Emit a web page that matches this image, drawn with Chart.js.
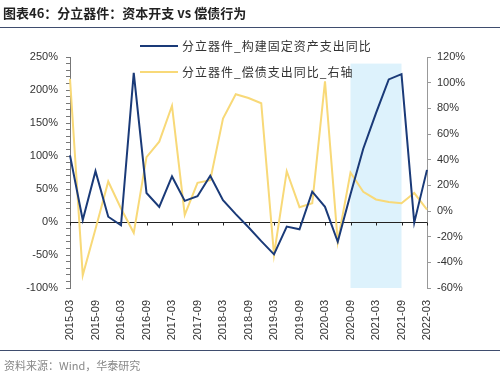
<!DOCTYPE html>
<html>
<head>
<meta charset="utf-8">
<script src="https://cdn.jsdelivr.net/npm/chart.js@4.4.0/dist/chart.umd.min.js"></script>
<style>
    body { margin: 0; background: #fff; }
    #wrap { position: relative; width: 500px; height: 377px; overflow: hidden; }
    #chart { position: absolute; left: 0; top: 0; }
    .title {
        position: absolute; left: 3px; top: 3px;
        font: bold 13px "Noto Sans CJK SC", "Liberation Sans", sans-serif;
        color: #222;
    }
    .rule { position: absolute; left: 0; width: 500px; height: 1px; background: #3f4d6e; }
    .source {
        position: absolute; left: 4px; top: 357px;
        font: 11px "Noto Sans CJK SC", "Liberation Sans", sans-serif;
        color: #888;
    }
</style>
</head>
<body>
<div id="wrap">
    <canvas id="chart" width="500" height="377"></canvas>
    <div class="title">图表46：分立器件：资本开支 vs 偿债行为</div>
    <div class="rule" style="top:27px"></div>
    <div class="rule" style="top:350px"></div>
    <div class="source">资料来源：Wind，华泰研究</div>
</div>
<script>
// quarterly, 2015-03 .. 2022-03
const quarters = [
    '2015-03', '2015-06', '2015-09', '2015-12', '2016-03', '2016-06', '2016-09', '2016-12',
    '2017-03', '2017-06', '2017-09', '2017-12', '2018-03', '2018-06', '2018-09', '2018-12',
    '2019-03', '2019-06', '2019-09', '2019-12', '2020-03', '2020-06', '2020-09', '2020-12',
    '2021-03', '2021-06', '2021-09', '2021-12', '2022-03'
];
const capexYoY = [101, 3, 77, 8, -5, 226, 44, 23, 69, 32, 39, 70, 33, 12, -8, -29,
    -49, -7, -11, 46, 23, -30, 42, 111, 165, 216, 224, -1, 79];
const debtYoY = [103, -50, -14, 23, 2, -17, 42, 54, 82, -3, 22, 24, 72, 91, 88, 84,
    -34, 31, 3, 6, 101, -24, 30, 15, 9, 7, 6, 14, 1];
const seriesNames = ['分立器件_构建固定资产支出同比', '分立器件_偿债支出同比_右轴'];
const shadeFrom = '2020-09';
const shadeTo = '2021-09';

const blue = '#1a3a78';
const yellow = '#f8d978';
const fontStack = '"Liberation Sans", "Noto Sans CJK SC", sans-serif';

// light blue band + zero line with half-year ticks
const backdrop = {
    id: 'backdrop',
    beforeDatasetsDraw(chart) {
        const { ctx, scales: { x, y } } = chart;
        const x0 = x.getPixelForValue(quarters.indexOf(shadeFrom));
        const x1 = x.getPixelForValue(quarters.indexOf(shadeTo));
        const top = y.getPixelForValue(240);
        const bottom = y.getPixelForValue(-100);
        ctx.save();
        ctx.fillStyle = '#ddf2fc';
        ctx.fillRect(x0, top, x1 - x0, bottom - top);

        const zy = Math.round(y.getPixelForValue(0)) + 0.5;
        ctx.strokeStyle = '#222';
        ctx.lineWidth = 1;
        ctx.beginPath();
        ctx.moveTo(chart.chartArea.left, zy);
        ctx.lineTo(chart.chartArea.right, zy);
        quarters.forEach((q, i) => {
            if (i % 2 === 0) {
                const px = Math.round(x.getPixelForValue(i)) + 0.5;
                ctx.moveTo(px, zy);
                ctx.lineTo(px, zy + 3);
            }
        });
        ctx.stroke();
        ctx.restore();
    }
};

// legend drawn inside the top of the plot
const legendBox = {
    id: 'legendBox',
    afterDraw(chart) {
        const ctx = chart.ctx;
        const rows = [[blue, 46], [yellow, 72]];
        ctx.save();
        ctx.font = '12px "Noto Sans CJK SC", sans-serif';
        ctx.letterSpacing = '1px';
        ctx.textBaseline = 'middle';
        rows.forEach(([color, yy], i) => {
            ctx.strokeStyle = color;
            ctx.lineWidth = 2;
            ctx.beginPath();
            ctx.moveTo(140, yy);
            ctx.lineTo(178, yy);
            ctx.stroke();
            ctx.fillStyle = '#333';
            ctx.fillText(seriesNames[i], 182, yy);
        });
        ctx.restore();
    }
};

const ctx = document.getElementById('chart').getContext('2d');
new Chart(ctx, {
    type: 'line',
    data: {
        labels: quarters,
        datasets: [{
            label: seriesNames[0],
            data: capexYoY,
            borderColor: blue,
            borderWidth: 2,
            pointRadius: 0,
            tension: 0,
            yAxisID: 'y'
        }, {
            label: seriesNames[1],
            data: debtYoY,
            borderColor: yellow,
            borderWidth: 2,
            pointRadius: 0,
            tension: 0,
            yAxisID: 'y1'
        }]
    },
    options: {
        responsive: false,
        animation: false,
        layout: { padding: { top: 57, left: 0, right: 0, bottom: 0 } },
        plugins: {
            legend: { display: false },
            tooltip: { enabled: false }
        },
        scales: {
            x: {
                offset: false,
                grid: { display: false },
                border: { display: false },
                ticks: {
                    autoSkip: false,
                    maxRotation: 90,
                    minRotation: 90,
                    padding: 4,
                    color: '#333',
                    font: { family: fontStack, size: 11 },
                    callback: (v, i) => (i % 2 === 0 ? quarters[i] : '')
                },
                afterFit: (s) => { s.height = 89; }
            },
            y: {
                position: 'left',
                min: -100,
                max: 250,
                grid: { drawOnChartArea: false, color: '#777', tickLength: 4 },
                border: { color: '#777' },
                ticks: {
                    stepSize: 10,
                    autoSkip: false,
                    padding: 8,
                    color: '#333',
                    font: { family: fontStack, size: 11 },
                    callback: (v) => (v % 50 === 0 ? v + '%' : '')
                },
                afterFit: (s) => { s.width = 70; }
            },
            y1: {
                position: 'right',
                min: -60,
                max: 120,
                grid: { drawOnChartArea: false, color: '#999', tickLength: 4 },
                border: { color: '#999' },
                ticks: {
                    stepSize: 20,
                    padding: 6,
                    color: '#333',
                    font: { family: fontStack, size: 11 },
                    callback: (v) => v + '%'
                },
                afterFit: (s) => { s.width = 73; }
            }
        }
    },
    plugins: [backdrop, legendBox]
});
</script>
</body>
</html>
